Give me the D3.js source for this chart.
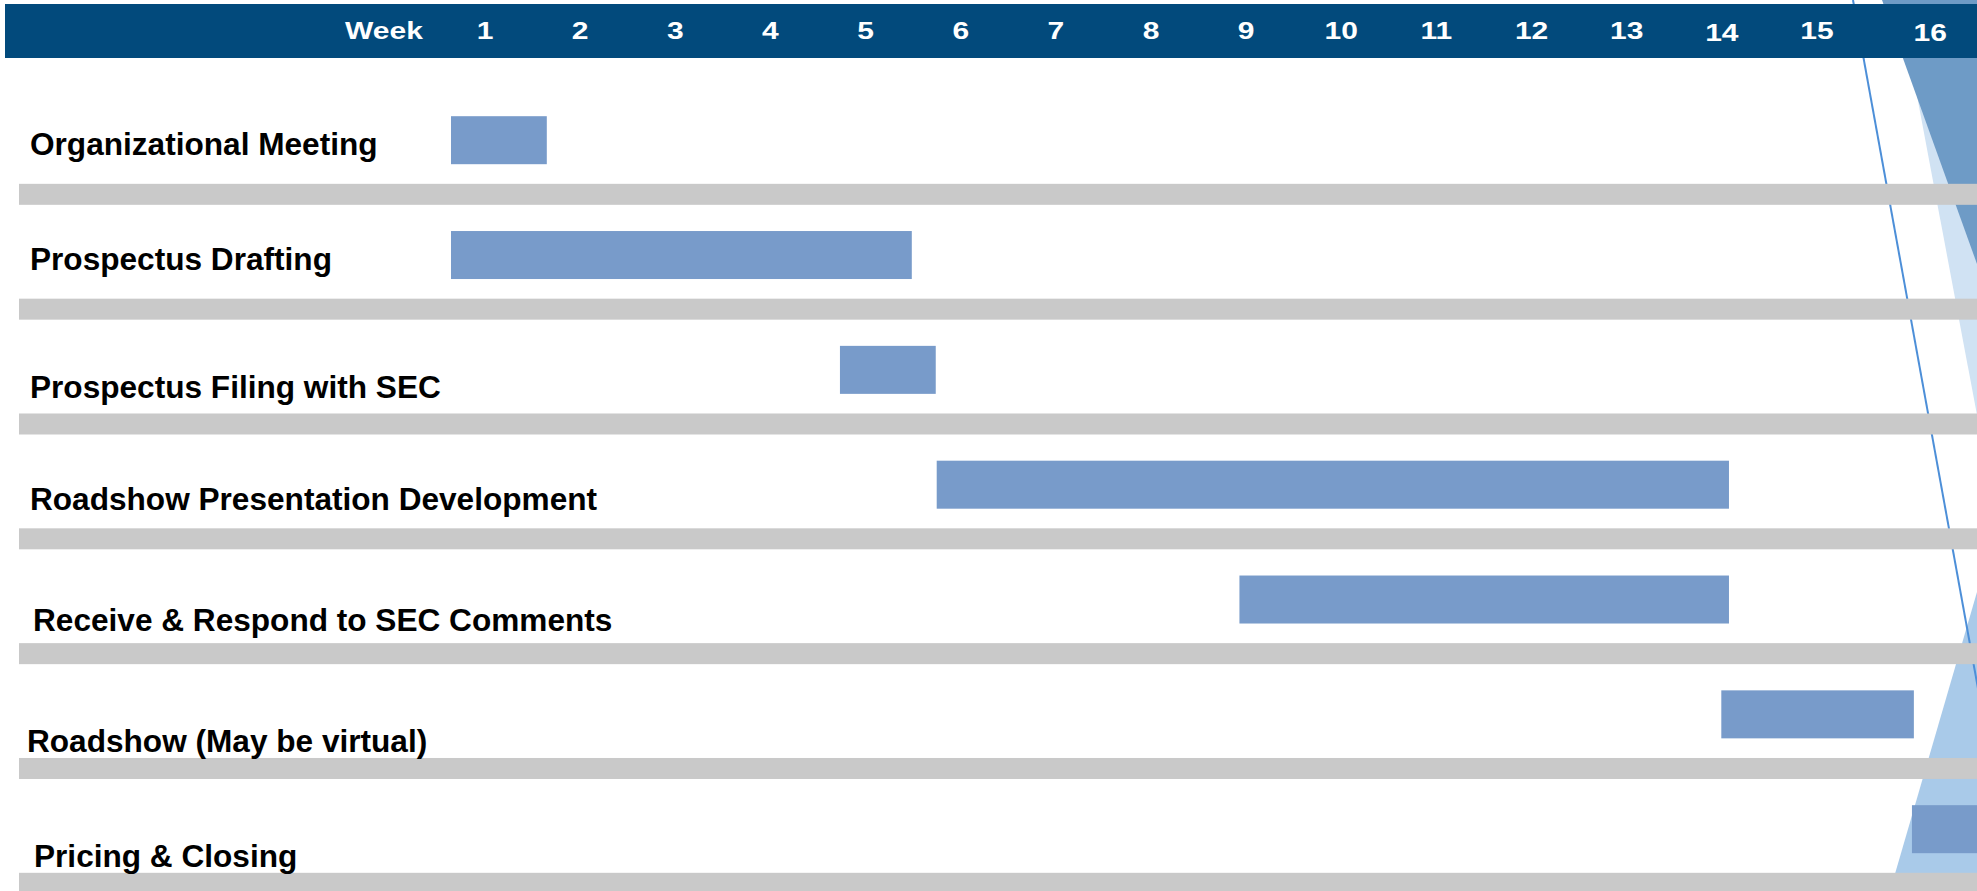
<!DOCTYPE html>
<html>
<head>
<meta charset="utf-8">
<script src="https://cdn.jsdelivr.net/npm/d3@7/dist/d3.min.js"></script>
<style>
  html, body { margin: 0; padding: 0; background: #ffffff; }
  svg { display: block; }
</style>
</head>
<body>
<svg id="chart" width="1977" height="891"></svg>
<script>
// ---------------- data ----------------
const tasks = [
  "Organizational Meeting",
  "Prospectus Drafting",
  "Prospectus Filing with SEC",
  "Roadshow Presentation Development",
  "Receive & Respond to SEC Comments",
  "Roadshow (May be virtual)",
  "Pricing & Closing"
];
// start / end in weeks elapsed (week 1 begins at 0)
const startWeek = [0, 0, 4.06, 5.07, 8.23, 13.26, 15.25];
const endWeek   = [1, 4.81, 5.06, 13.34, 13.34, 15.27, 16.3];
const headerTitle = "Week";
const weekLabels = ["1","2","3","4","5","6","7","8","9","10","11","12","13","14","15","16"];

// ---------------- layout ----------------
const W = 1977, H = 891;
const labelBaselineShift = [-29, -29, -16, -19, -12, -6, -6]; // relative to separator top
const labelXShift = [0, 0, 0, 0, 3, -3, 4];
const weekXShift = [0,0,0,0,0,0,0,0,0,0,0,0,0,0,0,18];
const weekYShift = [0,0,0,0,0,0,0,0,0,0,0,0,0,2,0,2];

const svg = d3.select("#chart");

const x = d3.scaleLinear().domain([0, 16]).range([451, 451 + 16 * 95.8]);
const xHead = d3.scaleLinear().domain([1, 15]).range([485, 1817]);
const rowStep = 114.83;
const y = d3.scaleBand().domain(tasks).range([69.2, 69.2 + rowStep * tasks.length]).paddingInner(0).paddingOuter(0);

// ---------------- decorations (behind) ----------------
const deco = svg.append("g");
deco.append("polygon").attr("points", "1899,0 1977,0 1977,415").attr("fill", "#d0e2f3");
deco.append("polygon").attr("points", "1882,0 1977,0 1977,264").attr("fill", "#6e9bc6");
deco.append("polygon").attr("points", "1977,592 1977,891 1890,891").attr("fill", "#a9cae9");
deco.append("line").attr("x1", 1853).attr("y1", 0).attr("x2", 1981).attr("y2", 705)
  .attr("stroke", "#4d8fd8").attr("stroke-width", 2);

// ---------------- separators ----------------
svg.append("g").selectAll("rect").data(tasks).join("rect")
  .attr("x", 19)
  .attr("y", d => y(d) + rowStep - 0.2)
  .attr("width", W - 19)
  .attr("height", 21)
  .attr("fill", "#c9c9c9");

// ---------------- bars ----------------
svg.append("g").selectAll("rect").data(tasks).join("rect")
  .attr("x", (d, i) => x(startWeek[i]))
  .attr("y", d => y(d) + 47)
  .attr("width", (d, i) => x(endWeek[i]) - x(startWeek[i]))
  .attr("height", 48)
  .attr("fill", "#789bca");

// ---------------- task labels ----------------
svg.append("g").selectAll("text").data(tasks).join("text")
  .attr("x", (d, i) => 30 + labelXShift[i])
  .attr("y", (d, i) => y(d) + rowStep + labelBaselineShift[i])
  .attr("font-family", "'Liberation Sans', Arial, sans-serif")
  .attr("font-weight", "bold")
  .attr("font-size", 31.6)
  .attr("fill", "#000000")
  .text(d => d);

// ---------------- header ----------------
svg.append("rect").attr("x", 5).attr("y", 4).attr("width", W - 5).attr("height", 54).attr("fill", "#024a7c");
const head = svg.append("g")
  .attr("font-family", "'Liberation Sans', Arial, sans-serif")
  .attr("font-weight", "bold")
  .attr("font-size", 24)
  .attr("fill", "#ffffff")
  .attr("text-anchor", "middle");
head.append("text")
  .attr("transform", "translate(384,39) scale(1.25,1)")
  .text(headerTitle);
head.selectAll("text.wk").data(weekLabels).join("text")
  .attr("class", "wk")
  .attr("transform", (d, i) => `translate(${xHead(i + 1) + weekXShift[i]},${39 + weekYShift[i]}) scale(1.25,1)`)
  .text(d => d);
</script>
</body>
</html>
